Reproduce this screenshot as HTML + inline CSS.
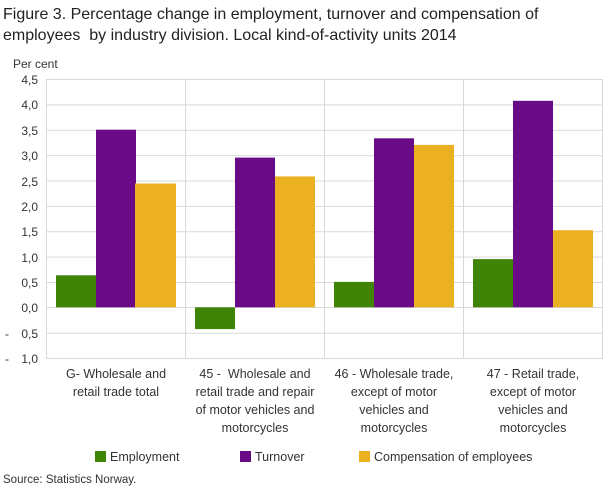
<!DOCTYPE html>
<html><head><style>
body{margin:0;background:#fff;width:609px;height:489px;overflow:hidden;font-family:"Liberation Sans",sans-serif;}
</style></head><body>
<svg width="609" height="489" xmlns="http://www.w3.org/2000/svg" font-family="Liberation Sans, sans-serif" fill="#333">
<text x="3" y="19" font-size="16" fill="#222">Figure 3. Percentage change in employment, turnover and compensation of</text>
<text x="3" y="40" font-size="16" fill="#222" xml:space="preserve">employees  by industry division. Local kind-of-activity units 2014</text>
<text x="13" y="68" font-size="12">Per cent</text>
<g stroke="#d9d9d9" stroke-width="1">
<line x1="46" x2="603" y1="79.5" y2="79.5"/>
<line x1="46" x2="603" y1="104.9" y2="104.9"/>
<line x1="46" x2="603" y1="130.2" y2="130.2"/>
<line x1="46" x2="603" y1="155.6" y2="155.6"/>
<line x1="46" x2="603" y1="181" y2="181"/>
<line x1="46" x2="603" y1="206.4" y2="206.4"/>
<line x1="46" x2="603" y1="231.7" y2="231.7"/>
<line x1="46" x2="603" y1="257.1" y2="257.1"/>
<line x1="46" x2="603" y1="282.5" y2="282.5"/>
<line x1="46" x2="603" y1="307.5" y2="307.5"/>
<line x1="46" x2="603" y1="333.2" y2="333.2"/>
<line x1="46" x2="603" y1="358.5" y2="358.5"/>
<line x1="46.5" x2="46.5" y1="79" y2="359"/>
<line x1="185.5" x2="185.5" y1="79" y2="359"/>
<line x1="324.5" x2="324.5" y1="79" y2="359"/>
<line x1="463.5" x2="463.5" y1="79" y2="359"/>
<line x1="602.5" x2="602.5" y1="79" y2="359"/>
</g>
<g font-size="12" text-anchor="end">
<text x="38" y="84">4,5</text><text x="38" y="109">4,0</text><text x="38" y="135">3,5</text>
<text x="38" y="160">3,0</text><text x="38" y="186">2,5</text><text x="38" y="211">2,0</text>
<text x="38" y="236">1,5</text><text x="38" y="262">1,0</text><text x="38" y="287">0,5</text>
<text x="38" y="312">0,0</text><text x="38" y="338">0,5</text><text x="38" y="363">1,0</text>
<text x="9" y="338">-</text><text x="9" y="363">-</text>
</g>
<g>
<rect x="56" y="275.3" width="40" height="32" fill="#3f8405"/>
<rect x="96" y="129.7" width="40" height="177.6" fill="#690a87"/>
<rect x="135" y="183.5" width="41" height="123.8" fill="#ebb121"/>
<rect x="195" y="307.3" width="40" height="21.8" fill="#3f8405"/>
<rect x="235" y="157.6" width="40" height="149.7" fill="#690a87"/>
<rect x="275" y="176.4" width="40" height="130.9" fill="#ebb121"/>
<rect x="334" y="281.9" width="40" height="25.4" fill="#3f8405"/>
<rect x="374" y="138.3" width="40" height="169" fill="#690a87"/>
<rect x="414" y="144.9" width="40" height="162.4" fill="#ebb121"/>
<rect x="473" y="259.1" width="40" height="48.2" fill="#3f8405"/>
<rect x="513" y="100.8" width="40" height="206.5" fill="#690a87"/>
<rect x="553" y="230.2" width="40" height="77.1" fill="#ebb121"/>
</g>
<g font-size="12.5" text-anchor="middle">
<text x="116" y="378">G- Wholesale and</text><text x="116" y="396">retail trade total</text>
<text x="255" y="378" xml:space="preserve">45 -  Wholesale and</text><text x="255" y="396">retail trade and repair</text><text x="255" y="414">of motor vehicles and</text><text x="255" y="432">motorcycles</text>
<text x="394" y="378">46 - Wholesale trade,</text><text x="394" y="396">except of motor</text><text x="394" y="414">vehicles and</text><text x="394" y="432">motorcycles</text>
<text x="533" y="378">47 - Retail trade,</text><text x="533" y="396">except of motor</text><text x="533" y="414">vehicles and</text><text x="533" y="432">motorcycles</text>
</g>
<g font-size="12.5">
<rect x="95" y="451" width="11" height="11" fill="#3f8405"/><text x="110" y="461">Employment</text>
<rect x="240" y="451" width="11" height="11" fill="#690a87"/><text x="255" y="461">Turnover</text>
<rect x="359" y="451" width="11" height="11" fill="#ebb121"/><text x="374" y="461">Compensation of employees</text>
</g>
<text x="3" y="483" font-size="11.5">Source: Statistics Norway.</text>
</svg>
</body></html>
